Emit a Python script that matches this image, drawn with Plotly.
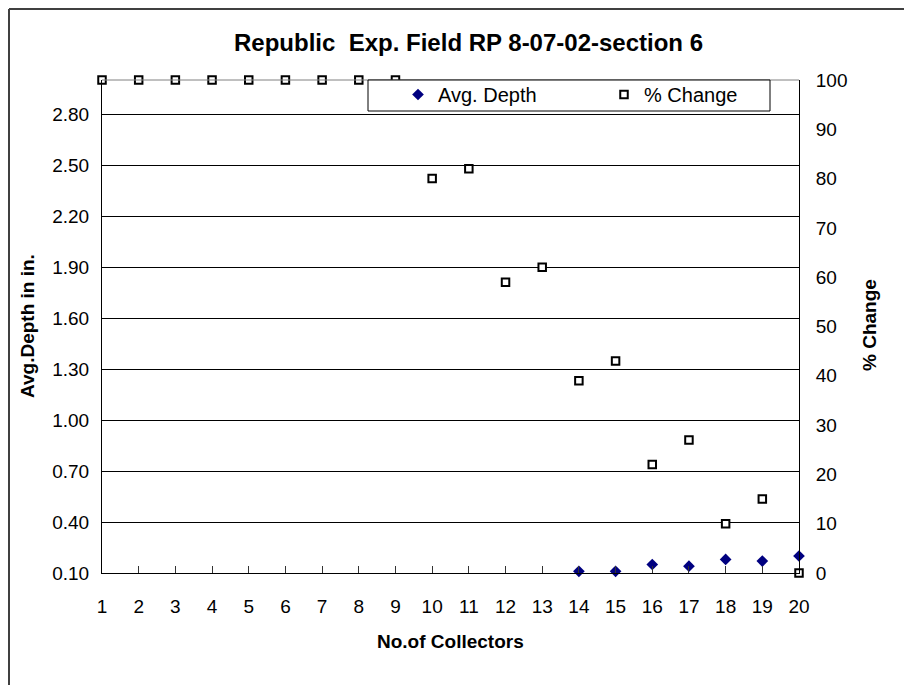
import plotly.graph_objects as go

# data
collectors = [1, 2, 3, 4, 5, 6, 7, 8, 9, 10, 11, 12, 13, 14, 15, 16, 17, 18, 19, 20]
avg_depth = [None, None, None, None, None, None, None, None, None, None, None, None, None,
             0.11, 0.11, 0.15, 0.14, 0.18, 0.17, 0.20]
pct_change = [100, 100, 100, 100, 100, 100, 100, 100, 100, 80, 82, 59, 62, 39, 43, 22, 27, 10, 15, 0]

depth_ticks = [0.10, 0.40, 0.70, 1.00, 1.30, 1.60, 1.90, 2.20, 2.50, 2.80]
pct_ticks = [0, 10, 20, 30, 40, 50, 60, 70, 80, 90, 100]

FONT = "Arial, Liberation Sans, sans-serif"

# page has an 8px body margin; target positions below are screen pixels
OFF = 8
W, H = 904, 677
L, R, T, B = 102, 799, 80, 573   # plot area on screen


def px(x):
    return (x - L) / (R - L)


def py(y):
    return (B - y) / (B - T)


fig = go.Figure()

fig.add_trace(go.Scatter(
    x=collectors, y=avg_depth, mode='markers', name='Avg. Depth',
    marker=dict(symbol='diamond', size=9, color='#000080'),
    cliponaxis=False, yaxis='y'))

fig.add_trace(go.Scatter(
    x=collectors, y=pct_change, mode='markers', name='% Change',
    marker=dict(symbol='square', size=7.5, color='white', line=dict(color='black', width=2)),
    cliponaxis=False, yaxis='y2'))

shapes = [
    # outer chart border (left and top only visible)
    dict(type='line', xref='paper', yref='paper', x0=px(OFF + 1), x1=px(OFF + 1),
         y0=py(OFF + 1), y1=py(OFF + H), line=dict(color='#404040', width=2)),
    dict(type='line', xref='paper', yref='paper', x0=px(OFF + 1), x1=px(OFF + W),
         y0=py(OFF + 1), y1=py(OFF + 1), line=dict(color='#404040', width=2)),
    # top edge of plot area
    dict(type='line', xref='paper', yref='paper', x0=0, x1=1, y0=1, y1=1,
         line=dict(color='#808080', width=1)),
    # legend box
    dict(type='rect', xref='paper', yref='paper', x0=px(368), x1=px(770), y0=py(111), y1=py(80),
         fillcolor='white', line=dict(color='black', width=1)),
]

annotations = [
    dict(text='Republic\u00a0 Exp. Field RP 8-07-02-section 6', xref='paper', yref='paper',
         x=px(469), y=py(42), showarrow=False, xanchor='center', yanchor='middle',
         font=dict(family=FONT, size=24, color='black', weight='bold')),
    dict(text='No.of Collectors', xref='paper', yref='paper', x=px(450), y=py(641),
         showarrow=False, xanchor='center', yanchor='middle',
         font=dict(family=FONT, size=19, color='black', weight='bold')),
    dict(text='Avg.Depth in in.', xref='paper', yref='paper', x=px(27), y=py(326),
         showarrow=False, xanchor='center', yanchor='middle', textangle=-90,
         font=dict(family=FONT, size=19, color='black', weight='bold')),
    dict(text='% Change', xref='paper', yref='paper', x=px(869), y=py(325),
         showarrow=False, xanchor='center', yanchor='middle', textangle=-90,
         font=dict(family=FONT, size=19, color='black', weight='bold')),
]

fig.update_layout(
    width=W, height=H,
    margin=dict(l=L - OFF, r=W - (R - OFF), t=T - OFF, b=H - (B - OFF), pad=0),
    paper_bgcolor='white', plot_bgcolor='white',
    font=dict(family=FONT, size=19, color='black'),
    showlegend=True,
    legend=dict(orientation='h', x=px(398), y=py(75), xanchor='left', yanchor='top',
                bgcolor='rgba(0,0,0,0)', borderwidth=0, entrywidth=161,
                font=dict(family=FONT, size=20, color='black')),
    xaxis=dict(range=[1, 20], tickvals=collectors, ticks='inside', ticklen=7,
               tickcolor='#333333', showgrid=False, zeroline=False, showline=True,
               linecolor='black', linewidth=1, ticklabelstandoff=16,
               tickfont=dict(size=19)),
    yaxis=dict(range=[0.1, 3.0], tickvals=depth_ticks, tickformat='.2f', ticks='',
               showgrid=True, gridcolor='black', gridwidth=1, zeroline=False,
               showline=True, linecolor='black', linewidth=1, ticklabelstandoff=8,
               tickfont=dict(size=19)),
    yaxis2=dict(range=[0, 100], tickvals=pct_ticks, overlaying='y', side='right', ticks='',
                showgrid=False, zeroline=False, showline=True, linecolor='black',
                linewidth=1, ticklabelstandoff=12, tickfont=dict(size=19)),
    shapes=shapes,
    annotations=annotations,
)

fig.write_html("out.html")
